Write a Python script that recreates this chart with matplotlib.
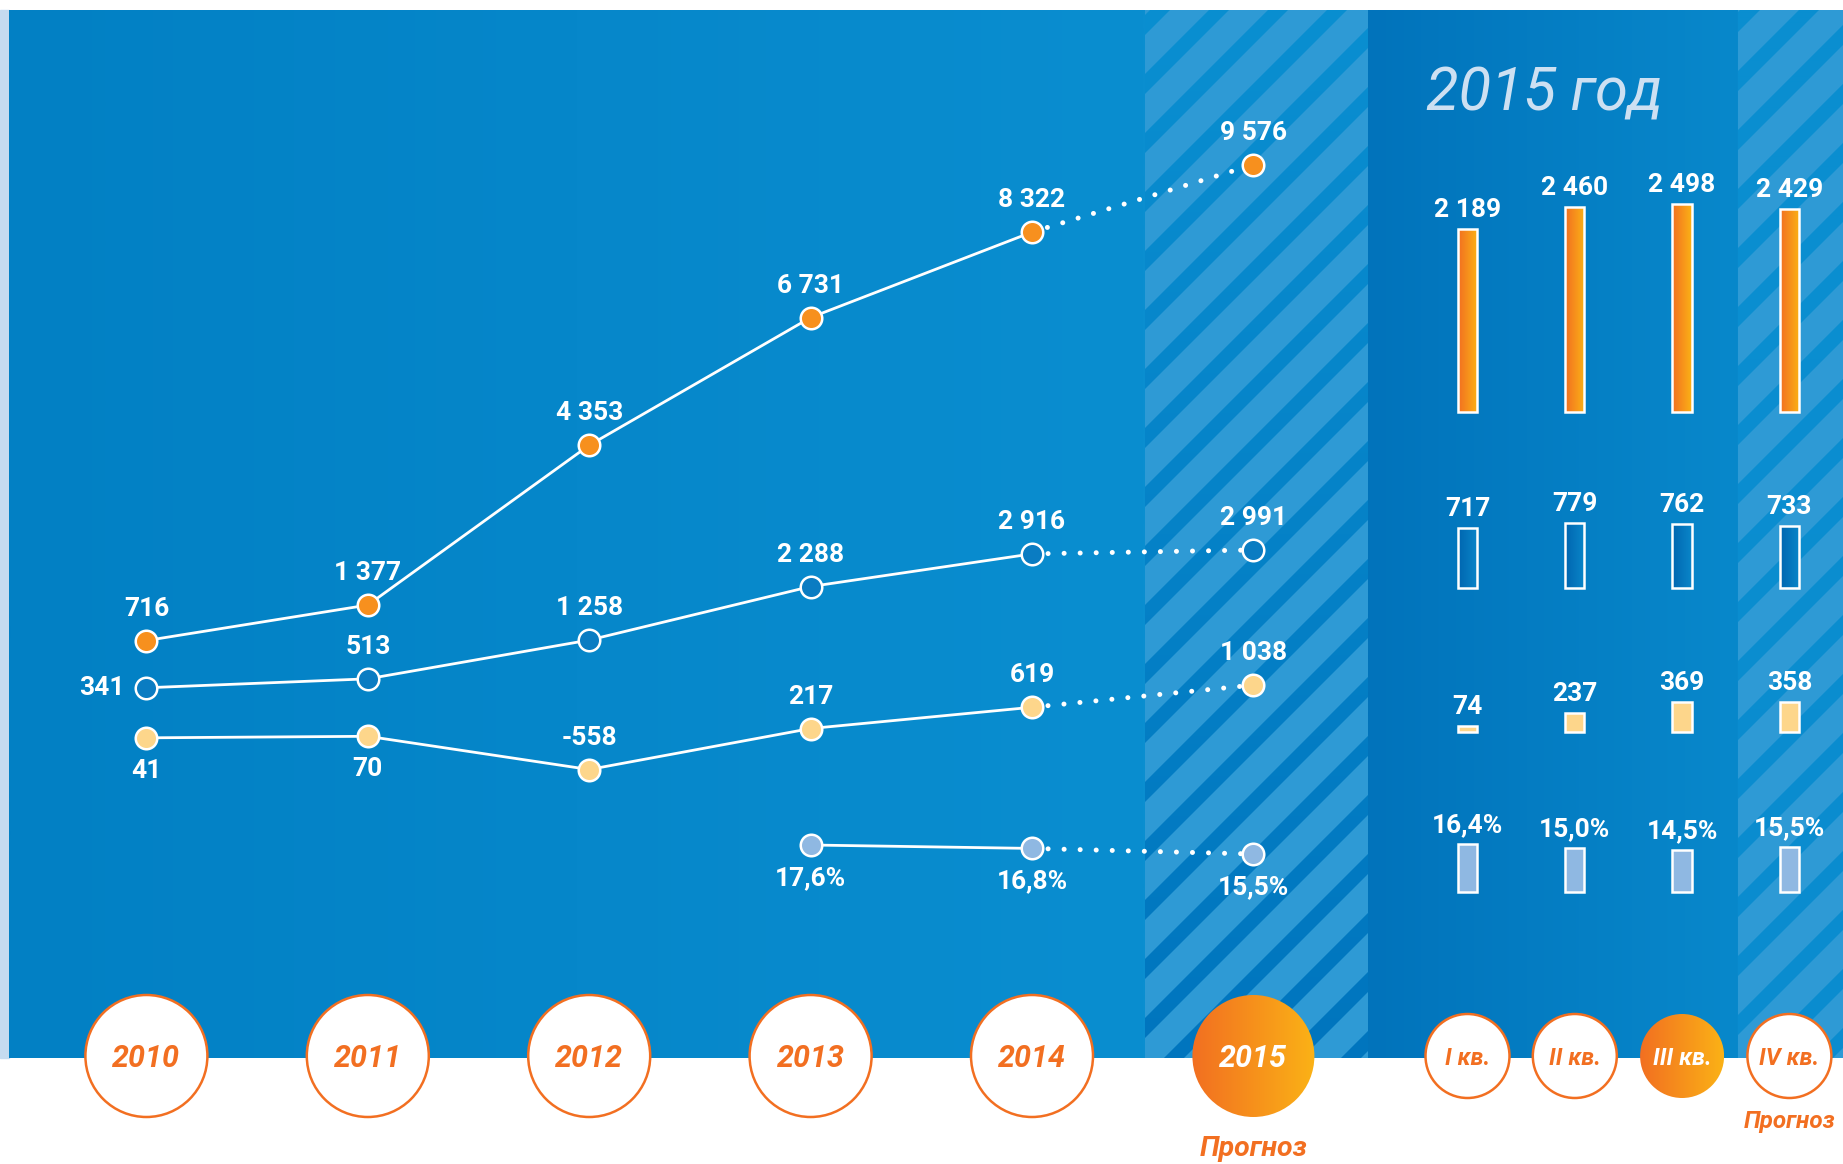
import numpy as np
import matplotlib.pyplot as plt
from matplotlib.patches import Ellipse, Rectangle
from matplotlib.colors import to_rgb

plt.rcParams['font.family'] = ['Roboto', 'DejaVu Sans']

# yearly figures
years = [2010, 2011, 2012, 2013, 2014, 2015]
year_labels = ['2010', '2011', '2012', '2013', '2014', '2015']
revenue = [716, 1377, 4353, 6731, 8322, 9576]
ebitda = [341, 513, 1258, 2288, 2916, 2991]
profit = [41, 70, -558, 217, 619, 1038]
margin_years = [2013, 2014, 2015]
margin = [17.6, 16.8, 15.5]

# 2015 by quarter
quarters = ['I кв.', 'II кв.', 'III кв.', 'IV кв.']
q_revenue = [2189, 2460, 2498, 2429]
q_ebitda = [717, 779, 762, 733]
q_profit = [74, 237, 369, 358]
q_margin = [16.4, 15.0, 14.5, 15.5]

title = '2015 год'
forecast = 'Прогноз'

W, H = 1843, 1164
ORANGE = '#f26f21'
AMBER = '#fbb216'

# pixel layout of the two x scales
YEAR_X0, YEAR_STEP = 146.4, 221.4
Q_X0, Q_STEP = 1467.5, 107.3
XL = (years[0] - YEAR_X0 / YEAR_STEP, years[0] + (W - YEAR_X0) / YEAR_STEP)
QL = (-Q_X0 / Q_STEP, (W - Q_X0) / Q_STEP)
qx = np.arange(len(quarters))

fig = plt.figure(figsize=(W / 100, H / 100), dpi=100)
fig.patch.set_facecolor('white')


def layer(xlim, ylim):
    a = fig.add_axes([0, 0, 1, 1])
    a.set_xlim(*xlim)
    a.set_ylim(*ylim)
    a.axis('off')
    a.patch.set_visible(False)
    return a


def ylim_for(base, scale):
    # base = pixel row of value 0 (from top), scale = pixels per unit
    return ((base - H) / scale, base / scale)


def gradient(ax, extent, c0, c1, clip=None, z=1):
    t = np.linspace(0, 1, 256)[None, :, None]
    img = np.array(to_rgb(c0)) * (1 - t) + np.array(to_rgb(c1)) * t
    im = ax.imshow(img, extent=extent, aspect='auto', interpolation='bilinear', zorder=z)
    if clip is not None:
        im.set_clip_path(clip)
    return im


def stripes(ax, x0, x1, y0, y1, top, bottom, light='#2e9ad5', period=59, frac=0.66, slope=1.0):
    X, Y = np.meshgrid(np.arange(x0, x1) + .5, np.arange(y0, y1) + .5)
    a = (Y + slope * X) % period
    L = frac * period
    m = np.maximum(np.clip(np.minimum(a, L - a) / 1.5 + .5, 0, 1),
                   np.clip((a - period) / 1.5 + .5, 0, 1))[..., None]
    t = ((Y - y0) / (y1 - y0))[..., None]
    dark = np.array(to_rgb(top)) * (1 - t) + np.array(to_rgb(bottom)) * t
    img = dark * (1 - m) + np.array(to_rgb(light)) * m
    ax.imshow(img, extent=[x0, x1, y1, y0], aspect='auto', interpolation='nearest', zorder=1)


def num(v):
    return f'{v:,}'.replace(',', ' ')


def pct(v):
    return f'{v:.1f}%'.replace('.', ',')


lab = dict(color='white', fontsize=19, fontweight='bold', ha='center', va='center',
           textcoords='offset pixels', zorder=5)

######## background ########
bg = layer((0, W), (H, 0))
bg.add_patch(Rectangle((0, 10), 9, 1048, color='#c5dbf0', zorder=1))
gradient(bg, [9, 1145, 1058, 10], '#0280c4', '#0a8ed0')
stripes(bg, 1145, 1368, 10, 1058, '#0a8fd1', '#0075be')
gradient(bg, [1368, 1738, 1058, 10], '#0173bb', '#0888cb')
stripes(bg, 1738, W, 10, 1058, '#0a8fd1', '#0a8ccf')
bg.text(1544, 110, title, ha='center', va='baseline', fontsize=43, fontstyle='italic',
        fontweight='normal', color='#cde0f2', zorder=3)


######## yearly lines ########
def draw_series(xv, vals, base, scale, face, where, fmt=num):
    a = layer(XL, ylim_for(base, scale))
    a.plot(xv[:-1], vals[:-1], color='white', lw=2, zorder=2)
    a.plot(xv[-2:], vals[-2:], color='white', lw=3.6, ls=(0, (0.01, 3.2)),
           dash_capstyle='round', zorder=2)
    a.plot(xv, vals, 'o', ms=15.5, mfc=face, mec='white', mew=1.8, zorder=3)
    off = {'up': (0, 32), 'down': (0, -33), 'left': (-22, 0)}
    for x, v, w in zip(xv, vals, where):
        kw = dict(lab)
        if w == 'left':
            kw['ha'] = 'right'
        a.annotate(fmt(v), (x, v), xytext=off[w], **kw)


draw_series(years, revenue, 679, 0.0537, '#f7901e', ['up'] * 6)
draw_series(years, ebitda, 705.5, 0.052, '#0a7cc2', ['left'] + ['up'] * 5)
draw_series(years, profit, 740, 0.0529, '#fdd68b', ['down', 'down'] + ['up'] * 4)
draw_series(margin_years, margin, 920.5, 4.29, '#8fb8e2', ['down'] * 3, fmt=pct)


######## quarterly bars ########
def draw_bars(vals, base, scale, face, fmt=num, grad=None):
    a = layer(QL, ylim_for(base, scale))
    bars = a.bar(qx, vals, width=0.18, color=face if grad is None else 'none',
                 edgecolor='white', linewidth=1.8, zorder=3)
    for b, v in zip(bars, vals):
        if grad is not None:
            gradient(a, [b.get_x(), b.get_x() + b.get_width(), 0, v], grad[0], grad[1], clip=b, z=2)
        a.annotate(fmt(v), (b.get_x() + b.get_width() / 2, v), xytext=(0, 19), **lab)


draw_bars(q_revenue, 412, 0.0834, None, grad=(ORANGE, AMBER))
draw_bars(q_ebitda, 587.5, 0.0834, None, grad=('#0066b0', '#0a86c9'))
draw_bars(q_profit, 732.3, 0.0834, '#fdd68b')
draw_bars(q_margin, 892.3, 2.93, '#8fb8e2', fmt=pct)

######## category badges ########
CY = 1056
yc = layer(XL, (H, 0))
R = 61
for i, (yr, t) in enumerate(zip(years, year_labels)):
    last = i == len(years) - 1
    e = Ellipse((yr, CY), 2 * R / YEAR_STEP, 2 * R, fc='none' if last else 'white',
                ec='none' if last else ORANGE, lw=1.8, zorder=2)
    yc.add_patch(e)
    if last:
        gradient(yc, [yr - R / YEAR_STEP, yr + R / YEAR_STEP, CY + R, CY - R], ORANGE, AMBER, clip=e, z=2)
    yc.text(yr, CY + 11, t, ha='center', va='baseline', fontsize=22, fontweight='bold',
            fontstyle='italic', color='white' if last else ORANGE, zorder=3)
yc.text(years[-1], 1156, forecast, ha='center', va='baseline', fontsize=20.5,
        fontweight='bold', fontstyle='italic', color=ORANGE)

qc = layer(QL, (H, 0))
RQ = 42
current_q = 2
for i, t in zip(qx, quarters):
    hl = i == current_q
    e = Ellipse((i, CY), 2 * RQ / Q_STEP, 2 * RQ, fc='none' if hl else 'white',
                ec='none' if hl else ORANGE, lw=1.8, zorder=2)
    qc.add_patch(e)
    if hl:
        gradient(qc, [i - RQ / Q_STEP, i + RQ / Q_STEP, CY + RQ, CY - RQ], ORANGE, AMBER, clip=e, z=2)
    qc.text(i, CY + 9, t, ha='center', va='baseline', fontsize=17, fontweight='bold',
            fontstyle='italic', color='white' if hl else ORANGE, zorder=3)
qc.text(qx[-1], 1128, forecast, ha='center', va='baseline', fontsize=17.5,
        fontweight='bold', fontstyle='italic', color=ORANGE)

fig.savefig('out.png', dpi=100, facecolor='white')
